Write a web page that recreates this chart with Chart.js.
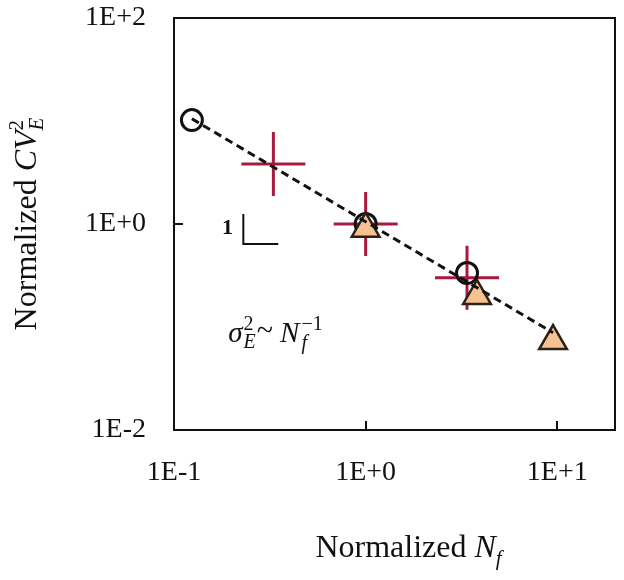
<!DOCTYPE html>
<html>
<head>
<meta charset="utf-8">
<script src="https://cdn.jsdelivr.net/npm/chart.js@4.4.1/dist/chart.umd.min.js"></script>
<style>
  html, body { margin: 0; padding: 0; background: #fff; }
  #wrap { width: 624px; height: 580px; }
</style>
</head>
<body>
<div id="wrap"><canvas id="chart" width="624" height="580"></canvas></div>
<script>
// Data (log-log)
const circleX = [0.124, 1.0, 3.38];
const circleY = [10.2, 1.0, 0.334];
const crossX = [0.33, 1.0, 3.38];
const crossY = [3.83, 1.0, 0.30];
const triX = [1.0, 3.81, 9.5];
const triY = [0.9, 0.2, 0.073];
const fitX = [0.124, 9.5];
const fitY = [10.5, 0.088];

const xTickVals = [0.1, 1, 10];
const xTickLabels = ['1E-1', '1E+0', '1E+1'];
const yTickVals = [0.01, 1, 100];
const yTickLabels = ['1E-2', '1E+0', '1E+2'];

const SERIF = '"Liberation Serif", "Times New Roman", serif';

function pts(xs, ys) {
    return xs.map((x, i) => ({ x: x, y: ys[i] }));
}

// draw a run of text pieces; a piece may be a stacked sub/superscript pair
function richWidth(ctx, parts) {
    let w = 0;
    parts.forEach(p => {
        if (p.stack) {
            let m = 0;
            p.stack.forEach(s => { ctx.font = s.font; m = Math.max(m, ctx.measureText(s.text).width); });
            w += m;
        } else {
            ctx.font = p.font;
            w += ctx.measureText(p.text).width;
        }
        w += p.gap || 0;
    });
    return w;
}

function drawRich(ctx, parts, x, y) {
    let cx = x;
    parts.forEach(p => {
        if (p.stack) {
            let m = 0;
            p.stack.forEach(s => {
                ctx.font = s.font;
                ctx.fillText(s.text, cx, y + s.dy);
                m = Math.max(m, ctx.measureText(s.text).width);
            });
            cx += m;
        } else {
            ctx.font = p.font;
            ctx.fillText(p.text, cx, y + (p.dy || 0));
            cx += ctx.measureText(p.text).width;
        }
        cx += p.gap || 0;
    });
}

const framePlugin = {
    id: 'frame',
    afterDatasetsDraw(chart) {
        const ctx = chart.ctx;
        const xs = chart.scales.x, ys = chart.scales.y;
        const a = chart.chartArea;
        ctx.save();
        ctx.strokeStyle = '#111';
        ctx.lineWidth = 2;
        ctx.strokeRect(a.left, a.top, a.right - a.left, a.bottom - a.top);
        // inward tick marks
        ctx.beginPath();
        [1, 10].forEach(v => {
            const px = Math.round(xs.getPixelForValue(v));
            ctx.moveTo(px, a.bottom);
            ctx.lineTo(px, a.bottom - 9);
        });
        const py = Math.round(ys.getPixelForValue(1));
        ctx.moveTo(a.left, py);
        ctx.lineTo(a.left + 9, py);
        ctx.stroke();

        // slope marker
        const cxp = xs.getPixelForValue(0.23), cyp = ys.getPixelForValue(0.64);
        const topp = ys.getPixelForValue(1.25), rightp = xs.getPixelForValue(0.35);
        ctx.lineWidth = 2;
        ctx.beginPath();
        ctx.moveTo(cxp, topp);
        ctx.lineTo(cxp, cyp);
        ctx.lineTo(rightp, cyp);
        ctx.stroke();
        ctx.fillStyle = '#111';
        ctx.textAlign = 'center';
        ctx.textBaseline = 'middle';
        ctx.font = 'bold 22px ' + SERIF;
        ctx.fillText('1', xs.getPixelForValue(0.19), ys.getPixelForValue(0.91));

        // power law note
        ctx.textAlign = 'left';
        ctx.textBaseline = 'alphabetic';
        const it = 'italic 29px ' + SERIF;
        const sm = '20px ' + SERIF;
        const smi = 'italic 20px ' + SERIF;
        drawRich(ctx, [
            { text: 'σ', font: it, gap: 1 },
            { stack: [{ text: 'E', font: smi, dy: 6 }, { text: '2', font: sm, dy: -12 }], gap: 1 },
            { text: '~', font: '30px ' + SERIF, dy: -2, gap: 7 },
            { text: 'N', font: it, gap: 2 },
            { stack: [{ text: 'f', font: smi, dy: 7 }, { text: '−1', font: sm, dy: -12 }] }
        ], xs.getPixelForValue(0.192), ys.getPixelForValue(0.072));
        ctx.restore();
    },
    afterDraw(chart) {
        const ctx = chart.ctx;
        const a = chart.chartArea;
        ctx.save();
        ctx.fillStyle = '#111';
        ctx.textBaseline = 'alphabetic';
        ctx.textAlign = 'left';
        const reg = '32px ' + SERIF, ita = 'italic 32px ' + SERIF;
        const sm = '21px ' + SERIF, smi = 'italic 21px ' + SERIF;

        // x title
        const xParts = [
            { text: 'Normalized ', font: reg },
            { text: 'N', font: ita },
            { text: 'f', font: smi, dy: 8 }
        ];
        const xw = richWidth(ctx, xParts);
        drawRich(ctx, xParts, (a.left + a.right) / 2 + 14 - xw / 2, 557);

        // y title (rotated)
        const yParts = [
            { text: 'Normalized ', font: reg },
            { text: 'CV', font: ita },
            { stack: [{ text: 'E', font: smi, dy: 7 }, { text: '2', font: sm, dy: -13 }] }
        ];
        const yw = richWidth(ctx, yParts);
        ctx.translate(36, (a.top + a.bottom) / 2);
        ctx.rotate(-Math.PI / 2);
        drawRich(ctx, yParts, -yw / 2, 0);
        ctx.restore();
    }
};

new Chart(document.getElementById('chart'), {
    type: 'scatter',
    data: {
        datasets: [{
            label: 'fit',
            type: 'line',
            data: pts(fitX, fitY),
            borderColor: '#111',
            borderWidth: 3,
            borderDash: [8, 5],
            pointRadius: 0,
            fill: false,
            order: 0
        }, {
            label: 'triangles',
            data: pts(triX, triY),
            pointStyle: 'triangle',
            pointRadius: 16,
            backgroundColor: '#F7C291',
            borderColor: '#2a2118',
            borderWidth: 2.5,
            order: 1
        }, {
            label: 'circles',
            data: pts(circleX, circleY),
            pointStyle: 'circle',
            pointRadius: 10.5,
            backgroundColor: 'rgba(0,0,0,0)',
            borderColor: '#111',
            borderWidth: 3,
            order: 2
        }, {
            label: 'crosses',
            data: pts(crossX, crossY),
            pointStyle: 'cross',
            pointRadius: 32,
            borderColor: '#A8193F',
            borderWidth: 3,
            order: 3
        }]
    },
    options: {
        responsive: false,
        animation: false,
        layout: { autoPadding: false, padding: { top: 18, right: 9, left: 0, bottom: 0 } },
        plugins: {
            legend: { display: false },
            tooltip: { enabled: false }
        },
        scales: {
            x: {
                type: 'logarithmic',
                min: 0.1,
                max: 20,
                afterBuildTicks: s => { s.ticks = xTickVals.map(v => ({ value: v })); },
                afterFit: s => { s.height = 150; s.paddingLeft = 0; s.paddingRight = 0; },
                grid: { display: false },
                border: { display: false },
                ticks: {
                    autoSkip: false,
                    maxRotation: 0,
                    padding: 18,
                    color: '#111',
                    font: { family: SERIF, size: 28 },
                    callback: (v, i) => xTickLabels[i]
                }
            },
            y: {
                type: 'logarithmic',
                min: 0.01,
                max: 100,
                afterBuildTicks: s => { s.ticks = yTickVals.map(v => ({ value: v })); },
                afterFit: s => { s.width = 174; s.paddingTop = 0; s.paddingBottom = 0; },
                grid: { display: false },
                border: { display: false },
                ticks: {
                    autoSkip: false,
                    padding: 20,
                    color: '#111',
                    font: { family: SERIF, size: 28 },
                    callback: (v, i) => yTickLabels[i]
                }
            }
        }
    },
    plugins: [framePlugin]
});
</script>
</body>
</html>
